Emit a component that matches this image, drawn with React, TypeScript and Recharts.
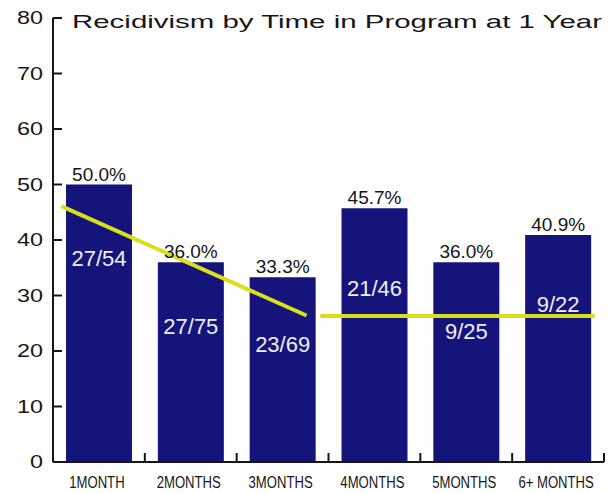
import { ComposedChart, Bar, Line, XAxis, YAxis, LabelList } from 'recharts'

const categories = ['1MONTH', '2MONTHS', '3MONTHS', '4MONTHS', '5MONTHS', '6+ MONTHS']
const rates = [50.0, 36.0, 33.3, 45.7, 36.0, 40.9]
const fractions = ['27/54', '27/75', '23/69', '21/46', '9/25', '9/22']
// level (in % units) where each count is printed inside its bar
const fractionLevels = [36.8, 24.5, 21.2, 31.4, 23.6, 28.4]
const yTicks = [0, 10, 20, 30, 40, 50, 60, 70, 80]
// trend segments, x in category units (0 = left edge of 1MONTH, 6 = right edge of 6+ MONTHS)
const trendEarly = [{ x: 0.09, y: 46.1 }, { x: 2.76, y: 26.4 }]
const trendLate = [{ x: 2.91, y: 26.3 }, { x: 5.9, y: 26.3 }]

const title = 'Recidivism by Time in Program at 1 Year'

const data = categories.map((name, i) => ({
  name,
  rate: rates[i],
  fraction: fractions[i],
  level: fractionLevels[i]
}))

const FONT = '"Liberation Sans", Arial, Helvetica, sans-serif'
const NAVY = '#14147a'
const YELLOW = '#d9df1a'
const INK = '#161616'

function YTick({ x, y, payload }: any) {
  return (
    <g>
      <line x1={x + 10} x2={x + 19} y1={y} y2={y} stroke={INK} strokeWidth={2} />
      <text
        transform={`translate(${x},${y + 6}) scale(1.3,1)`}
        textAnchor="end"
        fontSize={18}
        fontFamily={FONT}
        fill={INK}
      >
        {payload.value}
      </text>
    </g>
  )
}

function XTick({ x, y, payload }: any) {
  const half = payload.offset || 46
  return (
    <g>
      <line x1={x + half} x2={x + half} y1={y} y2={y - 9} stroke={INK} strokeWidth={2} />
      <text
        transform={`translate(${x - 2},${y + 26}) scale(0.82,1)`}
        textAnchor="middle"
        fontSize={16}
        fontFamily={FONT}
        fill={INK}
      >
        {payload.value}
      </text>
    </g>
  )
}

function FractionLabel(props: any) {
  const { x, y, width, height, index } = props
  const row = data[index]
  const perUnit = Number(height) / row.rate
  const cy = Number(y) + Number(height) - row.level * perUnit
  return (
    <text
      x={Number(x) + Number(width) / 2}
      y={cy + 8}
      textAnchor="middle"
      fontSize={22}
      fontFamily={FONT}
      fill="#eeeef6"
    >
      {row.fraction}
    </text>
  )
}

export default function App() {
  return (
    <div style={{ position: 'absolute', left: 0, top: 0, width: 613, height: 493, background: '#fff' }}>
      <ComposedChart
        width={613}
        height={493}
        data={data}
        margin={{ top: 18, right: 9, bottom: 0, left: 0 }}
      >
        <XAxis
          xAxisId="cat"
          dataKey="name"
          height={31}
          tickSize={0}
          tickMargin={0}
          interval={0}
          tick={<XTick />}
          axisLine={{ stroke: INK, strokeWidth: 2 }}
          tickLine={false}
        />
        <XAxis xAxisId="num" type="number" dataKey="x" domain={[0, 6]} allowDataOverflow hide />
        <YAxis
          domain={[0, 80]}
          ticks={yTicks}
          width={53}
          tickSize={0}
          tickMargin={10}
          tick={<YTick />}
          axisLine={{ stroke: INK, strokeWidth: 2 }}
          tickLine={false}
          interval={0}
        />
        <Bar xAxisId="cat" dataKey="rate" barSize={66} fill={NAVY} isAnimationActive={false}>
          <LabelList
            dataKey="rate"
            position="top"
            offset={4}
            formatter={(v: any) => `${Number(v).toFixed(1)}%`}
            fill={INK}
            fontSize={19}
            fontFamily={FONT}
          />
          <LabelList dataKey="fraction" content={(p: any) => <FractionLabel {...p} />} />
        </Bar>
        <Line
          xAxisId="num"
          data={trendEarly}
          dataKey="y"
          type="linear"
          stroke={YELLOW}
          strokeWidth={4}
          dot={false}
          activeDot={false}
          isAnimationActive={false}
        />
        <Line
          xAxisId="num"
          data={trendLate}
          dataKey="y"
          type="linear"
          stroke={YELLOW}
          strokeWidth={4}
          dot={false}
          activeDot={false}
          isAnimationActive={false}
        />
      </ComposedChart>
      <svg
        width={613}
        height={493}
        style={{ position: 'absolute', left: 0, top: 0, pointerEvents: 'none' }}
      >
        <text
          x={72}
          y={28}
          fontSize={18}
          fontFamily={FONT}
          fill={INK}
          textLength={530}
          lengthAdjust="spacingAndGlyphs"
        >
          {title}
        </text>
      </svg>
    </div>
  )
}
